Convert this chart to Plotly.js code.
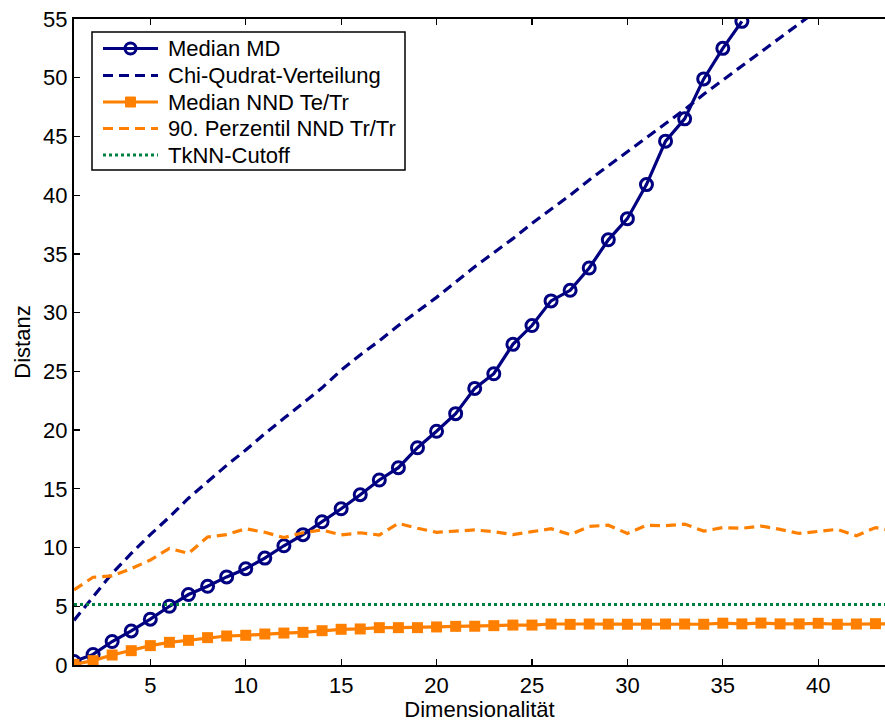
<!DOCTYPE html>
<html>
<head>
<meta charset="utf-8">
<script src="https://cdn.plot.ly/plotly-3.0.1.min.js"></script>
<style>html,body{margin:0;padding:0;background:#fff;}#chart{width:885px;height:722px;}</style>
</head>
<body>
<div id="chart"></div>
<script>
// Median MD (circles), dimensions 1..36
const mdX = [1,2,3,4,5,6,7,8,9,10,11,12,13,14,15,16,17,18,19,20,21,22,23,24,25,26,27,28,29,30,31,32,33,34,35,36];
const mdY = [0.3,0.9,2.0,2.9,3.9,5.0,6.0,6.7,7.5,8.2,9.1,10.15,11.1,12.2,13.3,14.5,15.75,16.8,18.5,19.9,21.4,23.55,24.8,27.3,28.9,31.0,31.9,33.8,36.2,38.0,40.9,44.6,46.5,49.9,52.5,54.8];

// Chi-Qudrat-Verteilung (dashed navy)
const chiX = [1,2,3,4,5,6,7,8,9,10,11,12,13,14,15,16,17,18,19,20,21,22,23,24,25,26,27,28,29,30,31,32,33,34,35,36,37,38,39,40];
const chiY = [3.8,5.8,7.8,9.5,11.1,12.6,14.2,15.6,17.0,18.3,19.7,21.0,22.3,23.6,25.1,26.4,27.6,28.9,30.1,31.3,32.6,33.9,35.1,36.3,37.6,38.8,40.0,41.3,42.5,43.7,44.9,46.1,47.3,48.6,49.8,51.0,52.2,53.4,54.6,55.8];

// Median NND Te/Tr (orange squares)
const nndX = [1,2,3,4,5,6,7,8,9,10,11,12,13,14,15,16,17,18,19,20,21,22,23,24,25,26,27,28,29,30,31,32,33,34,35,36,37,38,39,40,41,42,43,44];
const nndY = [0.05,0.37,0.85,1.22,1.65,1.93,2.1,2.33,2.47,2.53,2.64,2.72,2.78,2.92,3.04,3.07,3.18,3.18,3.18,3.24,3.29,3.3,3.35,3.4,3.4,3.49,3.46,3.49,3.48,3.47,3.48,3.49,3.49,3.47,3.56,3.5,3.57,3.5,3.5,3.55,3.47,3.49,3.52,3.5];

// 90. Perzentil NND Tr/Tr (orange dashed)
const p90X = [1,2,3,4,5,6,7,8,9,10,11,12,13,14,15,16,17,18,19,20,21,22,23,24,25,26,27,28,29,30,31,32,33,34,35,36,37,38,39,40,41,42,43,44];
const p90Y = [6.4,7.47,7.58,8.2,8.94,9.93,9.5,10.9,11.1,11.6,11.3,10.85,11.26,11.5,11.07,11.26,11.07,12.06,11.64,11.3,11.4,11.5,11.35,11.1,11.35,11.6,11.1,11.8,11.9,11.2,11.9,11.86,12.0,11.4,11.7,11.64,11.83,11.55,11.2,11.35,11.55,11.0,11.7,11.4];

// TkNN-Cutoff (green dotted)
const cutX = [1,44];
const cutY = [5.15,5.15];

const seriesNames = ['Median MD','Chi-Qudrat-Verteilung','Median NND Te/Tr','90. Perzentil NND Tr/Tr','TkNN-Cutoff'];

const navy = '#000080';
const orange = '#FF8000';
const green = '#008040';
const FONT = 'Liberation Sans, Arial, Helvetica, sans-serif';
const DASH = '10px,6px';
const DOT = '3px,3px';

const traces = [
  {x: mdX, y: mdY, name: seriesNames[0], mode: 'lines+markers', type: 'scatter',
   line: {color: navy, width: 3.2},
   marker: {symbol: 'circle-open', size: 12, color: navy, line: {color: navy, width: 3}}},
  {x: chiX, y: chiY, name: seriesNames[1], mode: 'lines', type: 'scatter',
   line: {color: navy, width: 3.2, dash: DASH}},
  {x: nndX, y: nndY, name: seriesNames[2], mode: 'lines+markers', type: 'scatter',
   line: {color: orange, width: 3.2},
   marker: {symbol: 'square', size: 11, color: orange}},
  {x: p90X, y: p90Y, name: seriesNames[3], mode: 'lines', type: 'scatter',
   line: {color: orange, width: 3.2, dash: DASH}},
  {x: cutX, y: cutY, name: seriesNames[4], mode: 'lines', type: 'scatter',
   line: {color: green, width: 3.2, dash: DOT}}
];

// Custom legend (paper coordinates), MATLAB-style compact box
const plotL = 74, plotW = 811, plotT = 19, plotH = 646;
const px = v => (v - plotL) / plotW;
const py = v => 1 - (v - plotT) / plotH;
const box = {l: 92, t: 32, r: 405, b: 170};
const rowY = [48.5, 75.5, 102, 128.5, 155];
const lineStyles = [
  {color: navy, dash: 'solid'}, {color: navy, dash: DASH},
  {color: orange, dash: 'solid'}, {color: orange, dash: DASH},
  {color: green, dash: DOT}
];
const shapes = [
  {type: 'rect', xref: 'paper', yref: 'paper', x0: px(box.l), x1: px(box.r), y0: py(box.b), y1: py(box.t),
   fillcolor: '#fff', line: {color: '#000', width: 1.5}, layer: 'above'}
];
const annotations = [];
lineStyles.forEach((s, i) => {
  shapes.push({type: 'line', xref: 'paper', yref: 'paper', x0: px(103), x1: px(158), y0: py(rowY[i]), y1: py(rowY[i]),
    line: {color: s.color, width: 3.2, dash: s.dash}, layer: 'above'});
  annotations.push({xref: 'paper', yref: 'paper', x: px(166), y: py(rowY[i]), xanchor: 'left', yanchor: 'middle',
    text: seriesNames[i], showarrow: false, font: {family: FONT, size: 22, color: '#000'}});
});
// legend markers
shapes.push({type: 'circle', xref: 'paper', yref: 'paper', x0: px(125), x1: px(136), y0: py(rowY[0] + 5.5), y1: py(rowY[0] - 5.5),
  line: {color: navy, width: 3}, fillcolor: 'rgba(0,0,0,0)', layer: 'above'});
shapes.push({type: 'rect', xref: 'paper', yref: 'paper', x0: px(125.5), x1: px(135.5), y0: py(rowY[2] + 5), y1: py(rowY[2] - 5),
  line: {color: orange, width: 1}, fillcolor: orange, layer: 'above'});

const layout = {
  width: 885, height: 722,
  margin: {l: 74, r: 0, t: 19, b: 57, pad: 0},
  paper_bgcolor: '#fff', plot_bgcolor: '#fff',
  font: {family: FONT, size: 22, color: '#000'},
  showlegend: false,
  shapes: shapes,
  annotations: annotations,
  xaxis: {range: [1, 43.5], tickvals: [5,10,15,20,25,30,35,40], ticktext: ['5','10','15','20','25','30','35','40'],
          ticks: 'inside', ticklen: 6, tickwidth: 1.2, tickcolor: '#000',
          showline: true, linecolor: '#000', linewidth: 2, mirror: 'ticks',
          showgrid: false, zeroline: false,
          tickfont: {family: FONT, size: 22, color: '#000'},
          title: {text: 'Dimensionalität', font: {family: FONT, size: 22, color: '#000'}, standoff: 2}},
  yaxis: {range: [0, 55], tickvals: [0,5,10,15,20,25,30,35,40,45,50,55], ticktext: ['0','5','10','15','20','25','30','35','40','45','50','55'],
          ticks: 'inside', ticklen: 6, tickwidth: 1.2, tickcolor: '#000',
          showline: true, linecolor: '#000', linewidth: 2,
          showgrid: false, zeroline: false,
          tickfont: {family: FONT, size: 22, color: '#000'},
          title: {text: 'Distanz', font: {family: FONT, size: 22, color: '#000'}, standoff: 6}}
};

Plotly.newPlot('chart', traces, layout, {displayModeBar: false, staticPlot: true});
</script>
</body>
</html>
